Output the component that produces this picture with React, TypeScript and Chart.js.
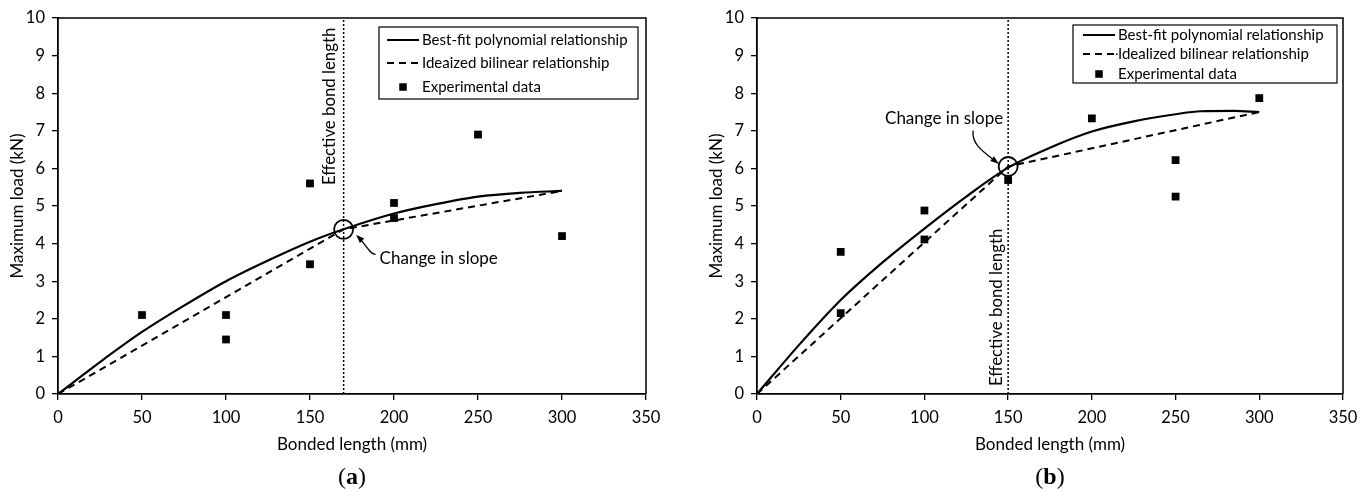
import React, { useEffect, useRef } from "react";
import { Chart, registerables } from "chart.js";

Chart.register(...registerables);

const FONT = "Lato";

// Axis ticks and titles
const xAxisTicks = [0, 50, 100, 150, 200, 250, 300, 350];
const yAxisTicks = [0, 1, 2, 3, 4, 5, 6, 7, 8, 9, 10];
const xTitle = "Bonded length (mm)";
const yTitle = "Maximum load (kN)";

// Panel (a)
const aExpLength = [50, 100, 100, 150, 150, 200, 200, 250, 300];
const aExpLoad = [2.1, 2.1, 1.45, 5.6, 3.45, 5.08, 4.68, 6.9, 4.2];
const aPolyLength = [0, 25, 50, 75, 100, 125, 150, 170, 200, 225, 250, 275, 300];
const aPolyLoad = [0, 0.85, 1.65, 2.35, 3.0, 3.55, 4.05, 4.38, 4.8, 5.05, 5.25, 5.35, 5.4];
const aBilinLength = [0, 170, 300];
const aBilinLoad = [0, 4.38, 5.4];
const aEffectiveLength = 170;
const aLegend = ["Best-fit polynomial relationship", "Ideaized bilinear relationship", "Experimental data"];

// Panel (b)
const bExpLength = [50, 50, 100, 100, 150, 200, 250, 250, 300];
const bExpLoad = [3.78, 2.15, 4.88, 4.11, 5.69, 7.33, 6.22, 5.25, 7.87];
const bPolyLength = [0, 25, 50, 75, 100, 125, 150, 175, 200, 225, 250, 265, 285, 300];
const bPolyLoad = [0, 1.3, 2.5, 3.5, 4.4, 5.25, 6.02, 6.55, 6.98, 7.25, 7.44, 7.52, 7.53, 7.5];
const bBilinLength = [0, 150, 300];
const bBilinLoad = [0, 6.05, 7.5];
const bEffectiveLength = 150;
const bLegend = ["Best-fit polynomial relationship", "Idealized bilinear relationship", "Experimental data"];

const effText = "Effective bond length";
const slopeText = "Change in slope";

function pts(xs: number[], ys: number[]) {
  return xs.map((x, i) => ({ x, y: ys[i] }));
}

type PanelCfg = {
  key: string;
  left: number;
  axisWidth: number;
  padRight: number;
  yTitlePad: number;
  expX: number[];
  expY: number[];
  polyX: number[];
  polyY: number[];
  bilX: number[];
  bilY: number[];
  eff: number;
  legend: string[];
  legendBox: { x: number; y: number; w: number; h: number; rows: number[]; sample: number; text: number; dot: boolean };
  effTextDx: number;
  effTextStartY: number;
  slope: { tx: number; ty: number; align: CanvasTextAlign; arrow: number[]; head: number[] };
  letter: string;
};

const panels: PanelCfg[] = [
  {
    key: "a",
    left: 0,
    axisWidth: 58,
    padRight: 40,
    yTitlePad: 7,
    expX: aExpLength,
    expY: aExpLoad,
    polyX: aPolyLength,
    polyY: aPolyLoad,
    bilX: aBilinLength,
    bilY: aBilinLoad,
    eff: aEffectiveLength,
    legend: aLegend,
    legendBox: { x: 379, y: 27, w: 259, h: 72, rows: [40, 63, 87], sample: 387, text: 422, dot: false },
    effTextDx: -9,
    effTextStartY: 185,
    slope: { tx: 36, ty: 29, align: "left", arrow: [32, 25, 26, 25, 24, 17, 14, 7], head: [14, 7] },
    letter: "a",
  },
  {
    key: "b",
    left: 686,
    axisWidth: 71,
    padRight: 29,
    yTitlePad: 20,
    expX: bExpLength,
    expY: bExpLoad,
    polyX: bPolyLength,
    polyY: bPolyLoad,
    bilX: bBilinLength,
    bilY: bBilinLoad,
    eff: bEffectiveLength,
    legend: bLegend,
    legendBox: { x: 387, y: 25, w: 264, h: 58, rows: [35, 54, 74], sample: 397, text: 432, dot: true },
    effTextDx: -6,
    effTextStartY: 386,
    slope: { tx: -64, ty: -48, align: "center", arrow: [-35, -36, -37, -22, -24, -14, -11, -4], head: [-11, -4] },
    letter: "b",
  },
];

function makePlugin(cfg: PanelCfg) {
  return {
    id: "decor_" + cfg.key,
    afterDatasetsDraw(chart: any) {
      const { ctx, chartArea: ca, scales } = chart;
      const xs = scales.x;
      const ys = scales.y;
      ctx.save();
      // frame top/right
      ctx.strokeStyle = "#000";
      ctx.lineWidth = 1.5;
      ctx.setLineDash([]);
      ctx.beginPath();
      ctx.moveTo(ca.left, ca.top);
      ctx.lineTo(ca.right, ca.top);
      ctx.lineTo(ca.right, ca.bottom);
      ctx.stroke();

      // rotated effective bond length text
      const lx = xs.getPixelForValue(cfg.eff);
      ctx.save();
      ctx.translate(lx + cfg.effTextDx, cfg.effTextStartY);
      ctx.rotate(-Math.PI / 2);
      ctx.fillStyle = "#000";
      ctx.font = `16.8px ${FONT}`;
      ctx.textAlign = "left";
      ctx.textBaseline = "alphabetic";
      ctx.fillText(effText, 0, 0);
      ctx.restore();

      // change in slope annotation
      const cx = xs.getPixelForValue(cfg.eff);
      const cy = ys.getPixelForValue(cfg.bilY[1]);
      const s = cfg.slope;
      ctx.fillStyle = "#000";
      ctx.font = `17px ${FONT}`;
      ctx.textAlign = s.align;
      ctx.textBaseline = "middle";
      ctx.fillText(slopeText, cx + s.tx, cy + s.ty);
      const a = s.arrow;
      ctx.lineWidth = 1.3;
      ctx.beginPath();
      ctx.moveTo(cx + a[0], cy + a[1]);
      ctx.bezierCurveTo(cx + a[2], cy + a[3], cx + a[4], cy + a[5], cx + a[6], cy + a[7]);
      ctx.stroke();
      // arrow head
      const hx = cx + s.head[0];
      const hy = cy + s.head[1];
      const ang = Math.atan2(a[7] - a[5], a[6] - a[4]);
      ctx.beginPath();
      ctx.moveTo(hx + Math.cos(ang) * 2, hy + Math.sin(ang) * 2);
      ctx.lineTo(hx - Math.cos(ang - 0.45) * 7, hy - Math.sin(ang - 0.45) * 7);
      ctx.lineTo(hx - Math.cos(ang + 0.45) * 7, hy - Math.sin(ang + 0.45) * 7);
      ctx.closePath();
      ctx.fill();

      // legend
      const L = cfg.legendBox;
      ctx.fillStyle = "#fff";
      ctx.fillRect(L.x, L.y, L.w, L.h);
      ctx.strokeStyle = "#000";
      ctx.lineWidth = 1.2;
      ctx.strokeRect(L.x, L.y, L.w, L.h);
      ctx.lineWidth = 2;
      ctx.beginPath();
      ctx.moveTo(L.sample, L.rows[0]);
      ctx.lineTo(L.sample + 32, L.rows[0]);
      ctx.stroke();
      ctx.setLineDash([7, 5]);
      ctx.beginPath();
      ctx.moveTo(L.sample, L.rows[1]);
      ctx.lineTo(L.sample + 32, L.rows[1]);
      ctx.stroke();
      ctx.setLineDash([]);
      ctx.fillStyle = "#000";
      if (L.dot) ctx.fillRect(L.sample + 33, L.rows[1] - 0.5, 1.5, 1.5);
      ctx.fillRect(L.sample + 16 - 3.75, L.rows[2] - 3.75, 7.5, 7.5);
      ctx.font = `15px ${FONT}`;
      ctx.textAlign = "left";
      ctx.textBaseline = "middle";
      cfg.legend.forEach((t, i) => ctx.fillText(t, L.text, L.rows[i]));

      // caption (a)/(b), centred under the plot area
      const SZ = 24;
      ctx.font = `${SZ}px "Liberation Serif"`;
      const wOpen = ctx.measureText("(").width;
      const wClose = ctx.measureText(")").width;
      ctx.font = `bold ${SZ}px "Liberation Serif"`;
      const wL = ctx.measureText(cfg.letter).width;
      const total = wOpen + wL + wClose;
      let px = (ca.left + ca.right) / 2 - total / 2;
      const py = 478;
      ctx.textAlign = "left";
      ctx.textBaseline = "middle";
      ctx.font = `${SZ}px "Liberation Serif"`;
      ctx.fillText("(", px, py);
      px += wOpen;
      ctx.font = `bold ${SZ}px "Liberation Serif"`;
      ctx.fillText(cfg.letter, px, py);
      px += wL;
      ctx.font = `${SZ}px "Liberation Serif"`;
      ctx.fillText(")", px, py);
      ctx.restore();
    },
  };
}

function Panel({ cfg }: { cfg: PanelCfg }) {
  const ref = useRef<HTMLCanvasElement | null>(null);
  useEffect(() => {
    if (!ref.current) return;
    const chart = new Chart(ref.current, {
      type: "scatter",
      data: {
        datasets: [
          {
            label: "Experimental data",
            data: pts(cfg.expX, cfg.expY),
            pointStyle: "rect",
            pointRadius: 5.5,
            pointBackgroundColor: "#000",
            pointBorderColor: "#000",
            pointBorderWidth: 0,
            showLine: false,
            order: 0,
          },
          {
            label: "Change point",
            data: [{ x: cfg.eff, y: cfg.bilY[1] }],
            pointStyle: "circle",
            pointRadius: 9.5,
            pointBackgroundColor: "rgba(0,0,0,0)",
            pointBorderColor: "#000",
            pointBorderWidth: 1.8,
            showLine: false,
            order: 1,
          },
          {
            label: "Best-fit polynomial relationship",
            data: pts(cfg.polyX, cfg.polyY),
            showLine: true,
            borderColor: "#000",
            borderWidth: 2.2,
            pointRadius: 0,
            cubicInterpolationMode: "monotone",
            order: 2,
          },
          {
            label: "Idealized bilinear relationship",
            data: pts(cfg.bilX, cfg.bilY),
            showLine: true,
            borderColor: "#000",
            borderWidth: 2,
            borderDash: [7, 5],
            pointRadius: 0,
            order: 3,
          },
          {
            label: "Effective bond length",
            data: [
              { x: cfg.eff, y: yAxisTicks[0] },
              { x: cfg.eff, y: yAxisTicks[yAxisTicks.length - 1] },
            ],
            showLine: true,
            borderColor: "#000",
            borderWidth: 1.5,
            borderDash: [2, 2],
            pointRadius: 0,
            order: 4,
          },
        ],
      },
      options: {
        responsive: false,
        animation: false,
        devicePixelRatio: 1,
        layout: { padding: { left: 0, top: 18, right: cfg.padRight, bottom: 0 } },
        plugins: { legend: { display: false }, tooltip: { enabled: false } },
        scales: {
          x: {
            type: "linear",
            min: xAxisTicks[0],
            max: xAxisTicks[xAxisTicks.length - 1],
            afterBuildTicks: (s: any) => {
              s.ticks = xAxisTicks.map((v) => ({ value: v }));
            },
            afterFit: (s: any) => {
              s.height = 99;
            },
            grid: { drawOnChartArea: false, drawTicks: true, tickLength: 6, color: "#000", lineWidth: 1.3 },
            border: { color: "#000", width: 1.8 },
            ticks: { color: "#000", font: { family: FONT, size: 16.5 }, padding: 8, maxRotation: 0 },
            title: {
              display: true,
              text: xTitle,
              color: "#000",
              font: { family: FONT, size: 17 },
              padding: { top: 0, bottom: 38 },
            },
          },
          y: {
            type: "linear",
            min: yAxisTicks[0],
            max: yAxisTicks[yAxisTicks.length - 1],
            afterBuildTicks: (s: any) => {
              s.ticks = yAxisTicks.map((v) => ({ value: v }));
            },
            afterFit: (s: any) => {
              s.width = cfg.axisWidth;
            },
            grid: { drawOnChartArea: false, drawTicks: true, tickLength: 6, color: "#000", lineWidth: 1.3 },
            border: { color: "#000", width: 1.8 },
            ticks: { color: "#000", font: { family: FONT, size: 16.5 }, padding: 7 },
            title: {
              display: true,
              text: yTitle,
              color: "#000",
              font: { family: FONT, size: 17 },
              padding: { top: cfg.yTitlePad, bottom: 0 },
            },
          },
        },
      },
      plugins: [makePlugin(cfg)],
    } as any);
    return () => chart.destroy();
  }, [cfg]);
  return (
    <canvas
      ref={ref}
      width={686}
      height={493}
      style={{ position: "absolute", left: cfg.left, top: 0, width: 686, height: 493 }}
    />
  );
}

export default function App() {
  return (
    <div style={{ position: "fixed", left: 0, top: 0, width: 1372, height: 493, background: "#fff" }}>
      {panels.map((p) => (
        <Panel key={p.key} cfg={p} />
      ))}
    </div>
  );
}
